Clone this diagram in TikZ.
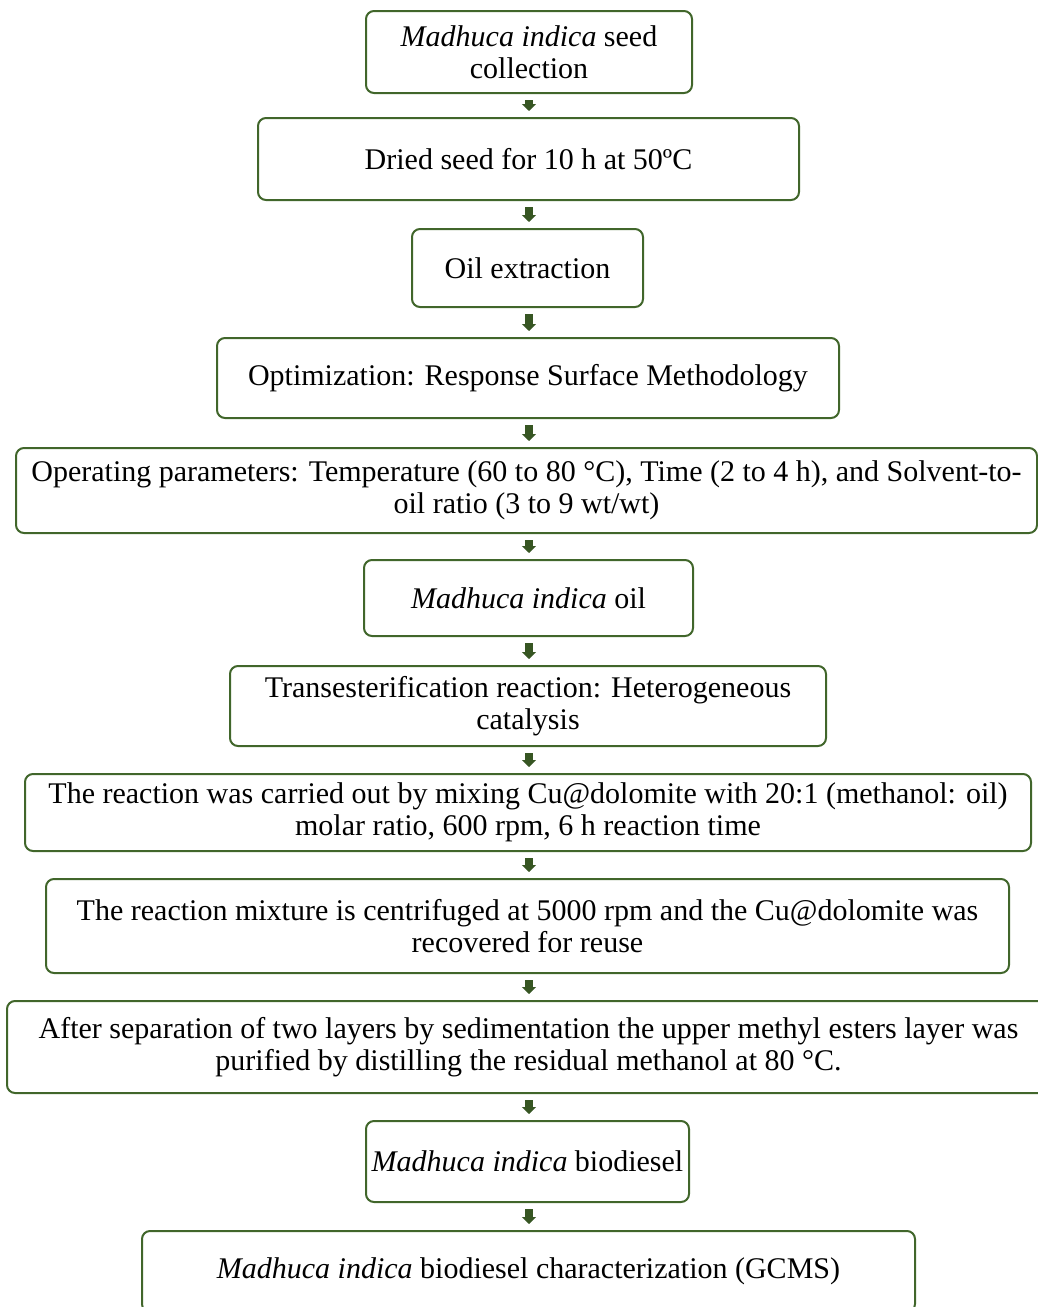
\documentclass[tikz,border=0pt]{standalone}
\usepackage{fontspec}
\setmainfont{Liberation Serif}
\usetikzlibrary{arrows.meta}
\definecolor{flowgreen}{HTML}{41662B}
\definecolor{flowdark}{HTML}{375623}
\begin{document}
\begin{tikzpicture}[x=1pt,y=-1pt,
  font=\fontsize{30}{32.5}\selectfont,
  stage/.style={draw=flowgreen,line width=2pt,rounded corners=8pt,align=center,inner sep=0pt},
  fl/.style={-{Triangle[width=14pt,length=7pt]},draw=flowdark,line width=8pt,shorten <=6pt,shorten >=6pt}
]
\useasboundingbox (0,0) rectangle (1038,1307);
\coordinate (axis) at (529,0);
\node[stage,minimum width=326pt,minimum height=82pt] (seed) at (529,52) {\textit{Madhuca indica} seed\\collection};
\node[stage,minimum width=541pt,minimum height=82pt] (dry) at (528.5,159) {Dried seed for 10 h at 50ºC};
\node[stage,minimum width=231pt,minimum height=78pt] (extr) at (527.5,268) {Oil extraction};
\node[stage,minimum width=622pt,minimum height=80pt] (rsm) at (528,378) {Optimization: Response Surface Methodology};
\node[stage,minimum width=1021pt,minimum height=85pt] (param) at (526.5,490.5) {Operating parameters: Temperature (60 to 80 °C), Time (2 to 4 h), and Solvent-to-\\oil ratio (3 to 9 wt/wt)};
\node[stage,minimum width=329pt,minimum height=76pt] (oil) at (528.5,598) {\textit{Madhuca indica} oil};
\node[stage,minimum width=596pt,minimum height=80pt] (trans) at (528,706) {Transesterification reaction: Heterogeneous\\catalysis};
\node[stage,minimum width=1006pt,minimum height=77pt] (mix) at (528,812.5) {The reaction was carried out by mixing Cu@dolomite with 20:1 (methanol: oil)\\molar ratio, 600 rpm, 6 h reaction time};
\node[stage,minimum width=963pt,minimum height=94pt] (cent) at (527.5,926) {The reaction mixture is centrifuged at 5000 rpm and the Cu@dolomite was\\recovered for reuse};
\node[stage,minimum width=1043pt,minimum height=92pt] (sep) at (528.5,1047) {After separation of two layers by sedimentation the upper methyl esters layer was\\purified by distilling the residual methanol at 80 °C.};
\node[stage,minimum width=323pt,minimum height=81pt] (bio) at (527.5,1161.5) {\textit{Madhuca indica} biodiesel};
\node[stage,minimum width=773pt,minimum height=81pt] (gcms) at (528.5,1271.5) {\textit{Madhuca indica} biodiesel characterization (GCMS)};
\draw[fl] (seed.south -| axis) -- (dry.north -| axis);
\draw[fl] (dry.south -| axis) -- (extr.north -| axis);
\draw[fl] (extr.south -| axis) -- (rsm.north -| axis);
\draw[fl] (rsm.south -| axis) -- (param.north -| axis);
\draw[fl] (param.south -| axis) -- (oil.north -| axis);
\draw[fl] (oil.south -| axis) -- (trans.north -| axis);
\draw[fl] (trans.south -| axis) -- (mix.north -| axis);
\draw[fl] (mix.south -| axis) -- (cent.north -| axis);
\draw[fl] (cent.south -| axis) -- (sep.north -| axis);
\draw[fl] (sep.south -| axis) -- (bio.north -| axis);
\draw[fl] (bio.south -| axis) -- (gcms.north -| axis);
\end{tikzpicture}
\end{document}
